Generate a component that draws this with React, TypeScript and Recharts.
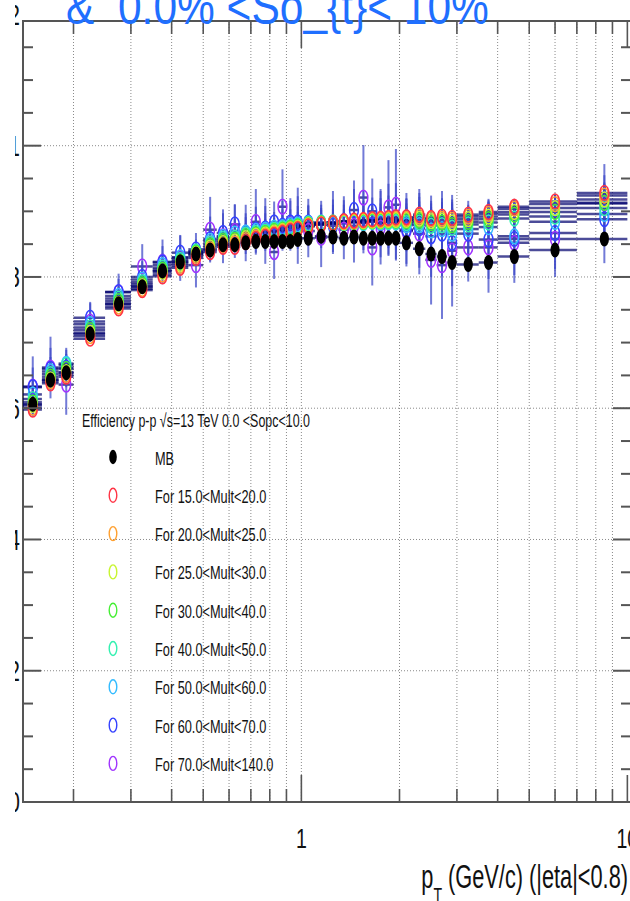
import React from 'react';
import {
  ScatterChart,
  Scatter,
  XAxis,
  YAxis,
  CartesianGrid,
  ErrorBar,
  Legend,
  ReferenceArea,
} from 'recharts';

// pT bin edges (GeV/c); one point per bin, drawn at the bin centre
const PT_EDGES = [
  0.14, 0.16, 0.18, 0.2, 0.25, 0.3, 0.35, 0.4, 0.45, 0.5, 0.55, 0.6, 0.65, 0.7, 0.75,
  0.8, 0.85, 0.9, 0.95, 1.0, 1.1, 1.2, 1.3, 1.4, 1.5, 1.6, 1.7, 1.8, 1.9, 2.0, 2.2,
  2.4, 2.6, 2.8, 3.0, 3.5, 4.0, 5.0, 7.0, 10.0,
];

// efficiency per bin
const EFF_MB = [
  0.606, 0.643, 0.654, 0.713, 0.759, 0.785, 0.809, 0.823, 0.835,
  0.841, 0.849, 0.849, 0.852, 0.854, 0.854, 0.854, 0.854, 0.854, 0.857,
  0.859, 0.862, 0.861, 0.859, 0.861, 0.859, 0.859, 0.859, 0.859, 0.859,
  0.852, 0.843, 0.835, 0.831, 0.822, 0.819, 0.822, 0.831, 0.841, 0.858,
];
const EFF_15_20 = [
  0.598, 0.638, 0.648, 0.706, 0.752, 0.78, 0.801, 0.814, 0.829,
  0.838, 0.846, 0.846, 0.853, 0.858, 0.861, 0.864, 0.867, 0.87, 0.873,
  0.877, 0.88, 0.882, 0.885, 0.886, 0.887, 0.888, 0.889, 0.89, 0.891,
  0.891, 0.895, 0.89, 0.892, 0.89, 0.895, 0.899, 0.907, 0.915, 0.928,
];
const EFF_20_25 = [
  0.601, 0.641, 0.651, 0.71, 0.755, 0.782, 0.804, 0.817, 0.832,
  0.842, 0.849, 0.851, 0.856, 0.86, 0.863, 0.866, 0.869, 0.872, 0.874,
  0.878, 0.88, 0.882, 0.884, 0.885, 0.886, 0.887, 0.887, 0.888, 0.889,
  0.889, 0.892, 0.888, 0.889, 0.887, 0.892, 0.896, 0.904, 0.911, 0.924,
];
const EFF_25_30 = [
  0.605, 0.644, 0.655, 0.715, 0.759, 0.786, 0.808, 0.82, 0.835,
  0.845, 0.852, 0.854, 0.859, 0.863, 0.865, 0.868, 0.87, 0.873, 0.875,
  0.879, 0.881, 0.882, 0.883, 0.884, 0.885, 0.886, 0.886, 0.887, 0.887,
  0.887, 0.889, 0.885, 0.886, 0.883, 0.888, 0.892, 0.899, 0.905, 0.918,
];
const EFF_30_40 = [
  0.609, 0.648, 0.66, 0.719, 0.763, 0.789, 0.811, 0.823, 0.837,
  0.848, 0.855, 0.857, 0.862, 0.865, 0.867, 0.87, 0.872, 0.875, 0.877,
  0.88, 0.882, 0.883, 0.883, 0.884, 0.884, 0.885, 0.885, 0.886, 0.886,
  0.885, 0.886, 0.882, 0.883, 0.879, 0.884, 0.888, 0.895, 0.899, 0.913,
];
const EFF_40_50 = [
  0.614, 0.652, 0.666, 0.723, 0.767, 0.792, 0.814, 0.826, 0.839,
  0.851, 0.858, 0.86, 0.865, 0.867, 0.869, 0.872, 0.874, 0.876, 0.878,
  0.881, 0.882, 0.882, 0.882, 0.883, 0.883, 0.884, 0.884, 0.884, 0.884,
  0.882, 0.883, 0.878, 0.879, 0.875, 0.88, 0.883, 0.889, 0.892, 0.905,
];
const EFF_50_60 = [
  0.621, 0.656, 0.668, 0.728, 0.771, 0.796, 0.818, 0.83, 0.838,
  0.855, 0.861, 0.866, 0.868, 0.87, 0.872, 0.875, 0.876, 0.879, 0.88,
  0.882, 0.883, 0.881, 0.882, 0.884, 0.882, 0.885, 0.883, 0.884, 0.883,
  0.879, 0.879, 0.871, 0.873, 0.866, 0.873, 0.876, 0.862, 0.884, 0.896,
];
const EFF_60_70 = [
  0.632, 0.66, 0.662, 0.738, 0.777, 0.8, 0.822, 0.837, 0.842,
  0.858, 0.867, 0.88, 0.866, 0.872, 0.874, 0.883, 0.878, 0.883, 0.883,
  0.883, 0.88, 0.878, 0.885, 0.902, 0.884, 0.9, 0.882, 0.887, 0.885,
  0.872, 0.874, 0.862, 0.866, 0.852, 0.866, 0.857, 0.858, 0.867, 0.888,
];
const EFF_70_140 = [
  0.633, 0.662, 0.636, 0.732, 0.777, 0.816, 0.823, 0.829, 0.818,
  0.872, 0.862, 0.87, 0.867, 0.884, 0.87, 0.838, 0.907, 0.88, 0.878,
  0.87, 0.86, 0.883, 0.872, 0.878, 0.921, 0.845, 0.875, 0.906, 0.91,
  0.87, 0.866, 0.826, 0.818, 0.84, 0.845, 0.845, 0.852, 0.858, 0.912,
];

// statistical uncertainty per bin
const ERR_MB = [
  0.002, 0.002, 0.002, 0.001, 0.001, 0.001, 0.001, 0.001, 0.001,
  0.002, 0.002, 0.002, 0.002, 0.002, 0.002, 0.002, 0.002, 0.002, 0.002,
  0.002, 0.002, 0.002, 0.002, 0.003, 0.003, 0.003, 0.003, 0.003, 0.003,
  0.003, 0.003, 0.004, 0.004, 0.004, 0.003, 0.003, 0.003, 0.003, 0.004,
];
const ERR_15_20 = [
  0.007, 0.007, 0.006, 0.005, 0.004, 0.005, 0.005, 0.005, 0.005,
  0.007, 0.006, 0.006, 0.007, 0.007, 0.007, 0.007, 0.008, 0.007, 0.008,
  0.008, 0.008, 0.008, 0.008, 0.009, 0.01, 0.01, 0.011, 0.011, 0.012,
  0.011, 0.012, 0.013, 0.013, 0.014, 0.01, 0.012, 0.011, 0.012, 0.014,
];
const ERR_20_25 = [
  0.008, 0.008, 0.007, 0.005, 0.005, 0.006, 0.006, 0.006, 0.006,
  0.008, 0.007, 0.007, 0.008, 0.008, 0.008, 0.008, 0.009, 0.008, 0.01,
  0.009, 0.009, 0.01, 0.009, 0.011, 0.012, 0.012, 0.013, 0.013, 0.014,
  0.013, 0.014, 0.015, 0.016, 0.016, 0.012, 0.014, 0.013, 0.014, 0.016,
];
const ERR_25_30 = [
  0.01, 0.01, 0.009, 0.007, 0.006, 0.008, 0.008, 0.008, 0.008,
  0.01, 0.009, 0.009, 0.01, 0.011, 0.011, 0.01, 0.012, 0.011, 0.012,
  0.011, 0.012, 0.012, 0.012, 0.014, 0.015, 0.015, 0.016, 0.017, 0.018,
  0.017, 0.018, 0.019, 0.02, 0.021, 0.016, 0.018, 0.017, 0.018, 0.021,
];
const ERR_30_40 = [
  0.013, 0.013, 0.012, 0.009, 0.008, 0.01, 0.01, 0.011, 0.011,
  0.013, 0.012, 0.012, 0.013, 0.014, 0.014, 0.013, 0.015, 0.014, 0.016,
  0.015, 0.015, 0.016, 0.016, 0.018, 0.019, 0.02, 0.021, 0.022, 0.024,
  0.022, 0.024, 0.025, 0.026, 0.027, 0.021, 0.024, 0.022, 0.023, 0.027,
];
const ERR_40_50 = [
  0.017, 0.017, 0.016, 0.012, 0.011, 0.013, 0.014, 0.014, 0.014,
  0.018, 0.016, 0.017, 0.017, 0.019, 0.019, 0.018, 0.02, 0.018, 0.021,
  0.02, 0.02, 0.022, 0.021, 0.024, 0.026, 0.027, 0.028, 0.03, 0.032,
  0.03, 0.032, 0.034, 0.035, 0.036, 0.028, 0.032, 0.03, 0.031, 0.036,
];
const ERR_50_60 = [
  0.022, 0.022, 0.021, 0.016, 0.015, 0.018, 0.018, 0.019, 0.019,
  0.024, 0.022, 0.022, 0.023, 0.025, 0.025, 0.024, 0.027, 0.024, 0.028,
  0.026, 0.027, 0.029, 0.028, 0.032, 0.034, 0.036, 0.037, 0.04, 0.042,
  0.04, 0.043, 0.045, 0.047, 0.048, 0.037, 0.043, 0.04, 0.041, 0.048,
];
const ERR_60_70 = [
  0.03, 0.032, 0.03, 0.022, 0.02, 0.024, 0.025, 0.026, 0.025,
  0.034, 0.03, 0.03, 0.031, 0.035, 0.034, 0.032, 0.038, 0.033, 0.04,
  0.036, 0.036, 0.04, 0.038, 0.045, 0.048, 0.05, 0.052, 0.055, 0.058,
  0.056, 0.06, 0.062, 0.065, 0.066, 0.05, 0.06, 0.055, 0.055, 0.067,
];
const ERR_70_140 = [
  0.046, 0.047, 0.046, 0.03, 0.028, 0.034, 0.034, 0.035, 0.034,
  0.05, 0.041, 0.041, 0.043, 0.05, 0.05, 0.041, 0.057, 0.04, 0.058,
  0.04, 0.045, 0.048, 0.045, 0.056, 0.08, 0.058, 0.056, 0.072, 0.085,
  0.05, 0.062, 0.068, 0.082, 0.085, 0.052, 0.069, 0.061, 0.058, 0.06,
];

// axis ticks
const X_TICKS = [0.2, 0.3, 0.4, 0.5, 0.6, 0.7, 0.8, 0.9, 1, 2, 3, 4, 5, 6, 7, 8, 9, 10];
const X_TICK_LABELS: Record<string, string> = { '1': '1', '10': '10' };
const Y_TICKS = [
  0, 0.05, 0.1, 0.15, 0.2, 0.25, 0.3, 0.35, 0.4, 0.45, 0.5, 0.55, 0.6, 0.65, 0.7, 0.75,
  0.8, 0.85, 0.9, 0.95, 1, 1.05, 1.1, 1.15, 1.2,
];
const Y_TICK_LABELS: Record<string, string> = {
  '0': '0', '0.2': '0.2', '0.4': '0.4', '0.6': '0.6', '0.8': '0.8', '1': '1', '1.2': '1.2',
};
const Y_GRID = [0.2, 0.4, 0.6, 0.8, 1.0];
const X_GRID = [0.2, 0.3, 0.4, 0.5, 0.6, 0.7, 0.8, 0.9, 1, 2, 3, 4, 5, 6, 7, 8, 9];

const TITLE = '&  0.0% <So_{t}< 10%';
const LEGEND_HEADER = 'Efficiency p-p \u221As=13 TeV 0.0 <Sopc<10.0';

const SERIES = [
  { name: 'MB', values: EFF_MB, errors: ERR_MB, color: '#000000', filled: true },
  { name: 'For 15.0<Mult<20.0', values: EFF_15_20, errors: ERR_15_20, color: '#ff3344', filled: false },
  { name: 'For 20.0<Mult<25.0', values: EFF_20_25, errors: ERR_20_25, color: '#ffa030', filled: false },
  { name: 'For 25.0<Mult<30.0', values: EFF_25_30, errors: ERR_25_30, color: '#c8f530', filled: false },
  { name: 'For 30.0<Mult<40.0', values: EFF_30_40, errors: ERR_30_40, color: '#44ee33', filled: false },
  { name: 'For 40.0<Mult<50.0', values: EFF_40_50, errors: ERR_40_50, color: '#33f0b0', filled: false },
  { name: 'For 50.0<Mult<60.0', values: EFF_50_60, errors: ERR_50_60, color: '#33bbff', filled: false },
  { name: 'For 60.0<Mult<70.0', values: EFF_60_70, errors: ERR_60_70, color: '#3340ff', filled: false },
  { name: 'For 70.0<Mult<140.0', values: EFF_70_140, errors: ERR_70_140, color: '#a033ff', filled: false },
];

// layout
const CHART_W = 632;
const CHART_H = 901;
const MARGIN = { top: 21, right: 1, bottom: 98, left: 22 };
const AXIS_THICK = 1;
const PLOT_LEFT = MARGIN.left + AXIS_THICK;
const PLOT_RIGHT = CHART_W - MARGIN.right;
const PLOT_TOP = MARGIN.top;
const PLOT_BOTTOM = CHART_H - MARGIN.bottom - AXIS_THICK;
const X_DOMAIN: [number, number] = [0.14, 10.26];
const Y_DOMAIN: [number, number] = [0, 1.19];

const FONT = "'Liberation Sans', Arial, Helvetica, sans-serif";
const AXIS_COLOR = '#555555';
const XERR_COLOR = 'rgba(0,0,110,0.7)';
const YERR_COLOR = 'rgba(60,70,200,0.72)';

type Row = { pt: number; eff: number; ex: [number, number]; ey: number };

const buildRows = (values: number[], errors: number[]): Row[] =>
  values.map((v, i) => {
    const lo = PT_EDGES[i];
    const hi = PT_EDGES[i + 1];
    const c = (lo + hi) / 2;
    return { pt: c, eff: v, ex: [c - lo, hi - c], ey: errors[i] };
  });

const keyOf = (v: number) => String(Math.round(v * 1000) / 1000);

const XTick = (props: any) => {
  const { x, payload } = props;
  const label = X_TICK_LABELS[keyOf(payload.value)];
  const len = label ? 27 : 13;
  return (
    <g>
      <line x1={x} x2={x} y1={PLOT_BOTTOM} y2={PLOT_BOTTOM - len} stroke={AXIS_COLOR} strokeWidth={1.6} />
      <line x1={x} x2={x} y1={PLOT_TOP} y2={PLOT_TOP + len} stroke={AXIS_COLOR} strokeWidth={1.6} />
      {label && (
        <g transform={`translate(${x},848) scale(0.7,1)`}>
          <text x={0} y={0} textAnchor="middle" fontSize={28} fontFamily={FONT} fill="#111">
            {label}
          </text>
        </g>
      )}
    </g>
  );
};

const YTick = (props: any) => {
  const { y, payload } = props;
  const v = payload.value as number;
  const label = Y_TICK_LABELS[keyOf(v)];
  const inside = v <= Y_DOMAIN[1] + 1e-9;
  const len = label ? 18 : 10;
  const clipId = `ylab-${Math.round(v * 100)}`;
  return (
    <g>
      {inside && (
        <>
          <line x1={PLOT_LEFT} x2={PLOT_LEFT + len} y1={y} y2={y} stroke={AXIS_COLOR} strokeWidth={2} />
          <line x1={PLOT_RIGHT} x2={PLOT_RIGHT - len} y1={y} y2={y} stroke={AXIS_COLOR} strokeWidth={2} />
        </>
      )}
      {label && (
        <>
          <defs>
            <clipPath id={clipId}>
              <rect x={15} y={y - 30} width={7} height={60} />
            </clipPath>
          </defs>
          <g clipPath={`url(#${clipId})`}>
            <g transform={`translate(20,${y}) scale(0.7,1)`}>
              <text x={0} y={0} textAnchor="end" dominantBaseline="central" fontSize={30} fontFamily={FONT} fill="#111">
                {label}
              </text>
            </g>
          </g>
        </>
      )}
    </g>
  );
};

const markerShape = (color: string, filled: boolean) => (p: any) => {
  if (p.cx == null || p.cy == null) return <g />;
  return filled ? (
    <ellipse cx={p.cx} cy={p.cy} rx={4.6} ry={7.5} fill={color} />
  ) : (
    <ellipse cx={p.cx} cy={p.cy} rx={4.4} ry={7.4} fill="none" stroke={color} strokeWidth={1.5} />
  );
};

const LegendBox = () => (
  <svg width={630} height={901} style={{ position: 'absolute', left: 0, top: 0, overflow: 'visible' }}>
    <g transform="translate(82,427) scale(0.655,1)">
      <text x={0} y={0} fontSize={19} fontFamily={FONT} fill="#111">
        {LEGEND_HEADER}
      </text>
    </g>
    {SERIES.map((s, i) => {
      const y = 457 + i * 38.3;
      return (
        <g key={s.name}>
          {s.filled ? (
            <ellipse cx={113} cy={y} rx={3.8} ry={7.2} fill={s.color} />
          ) : (
            <ellipse cx={113} cy={y} rx={3.8} ry={7} fill="none" stroke={s.color} strokeWidth={1.4} />
          )}
          <g transform={`translate(155,${y + 7.5}) scale(0.69,1)`}>
            <text x={0} y={0} fontSize={18.5} fontFamily={FONT} fill="#111">
              {s.name}
            </text>
          </g>
        </g>
      );
    })}
  </svg>
);

const drawOrder = [...SERIES.slice(1).reverse(), SERIES[0]];

export default function App() {
  return (
    <div
      style={{
        position: 'absolute',
        left: 0,
        top: 0,
        width: 630,
        height: 901,
        overflow: 'hidden',
        background: '#ffffff',
      }}
    >
      <ScatterChart width={CHART_W} height={CHART_H} margin={MARGIN}>
        <CartesianGrid
          horizontalValues={Y_GRID}
          verticalValues={X_GRID}
          stroke="#8a8a8a"
          strokeDasharray="1 2"
          strokeWidth={1}
        />
        <XAxis
          type="number"
          dataKey="pt"
          scale="log"
          domain={X_DOMAIN}
          allowDataOverflow
          ticks={X_TICKS}
          interval={0}
          height={AXIS_THICK}
          axisLine={false}
          tickLine={false}
          tick={XTick}
        />
        <YAxis
          type="number"
          dataKey="eff"
          domain={Y_DOMAIN}
          allowDataOverflow
          ticks={Y_TICKS}
          interval={0}
          width={AXIS_THICK}
          axisLine={false}
          tickLine={false}
          tick={YTick}
        />
        <ReferenceArea
          x1={X_DOMAIN[0]}
          x2={X_DOMAIN[1]}
          y1={Y_DOMAIN[0]}
          y2={Y_DOMAIN[1]}
          fill="none"
          fillOpacity={0}
          stroke={AXIS_COLOR}
          strokeWidth={2}
        />
        {drawOrder.map((s) => (
          <Scatter
            key={s.name}
            name={s.name}
            data={buildRows(s.values, s.errors)}
            fill={s.color}
            isAnimationActive={false}
            shape={markerShape(s.color, s.filled)}
          >
            <ErrorBar dataKey="ex" direction="x" width={0} stroke={XERR_COLOR} strokeWidth={2.5} />
            <ErrorBar dataKey="ey" direction="y" width={0} stroke={YERR_COLOR} strokeWidth={2} />
          </Scatter>
        ))}
        <Legend
          layout="vertical"
          align="center"
          verticalAlign="middle"
          content={() => <LegendBox />}
          wrapperStyle={{ left: 0, top: 0, width: 630, height: 901, pointerEvents: 'none' }}
        />
      </ScatterChart>
      <svg
        width={630}
        height={901}
        style={{ position: 'absolute', left: 0, top: 0, pointerEvents: 'none' }}
      >
        <g transform="translate(66,24) scale(0.85,1)">
          <text x={0} y={0} fontSize={50} fontFamily={FONT} fill="#1f6fff" style={{ whiteSpace: 'pre' }}>
            {TITLE}
          </text>
        </g>
        <g transform="translate(628,888) scale(0.64,1)">
          <text x={0} y={0} textAnchor="end" fontSize={34} fontFamily={FONT} fill="#111">
            <tspan>p</tspan>
            <tspan dy={15} fontSize={22}>T</tspan>
            <tspan dy={-15}>{' (GeV/c) (|eta|<0.8)'}</tspan>
          </text>
        </g>
      </svg>
    </div>
  );
}
